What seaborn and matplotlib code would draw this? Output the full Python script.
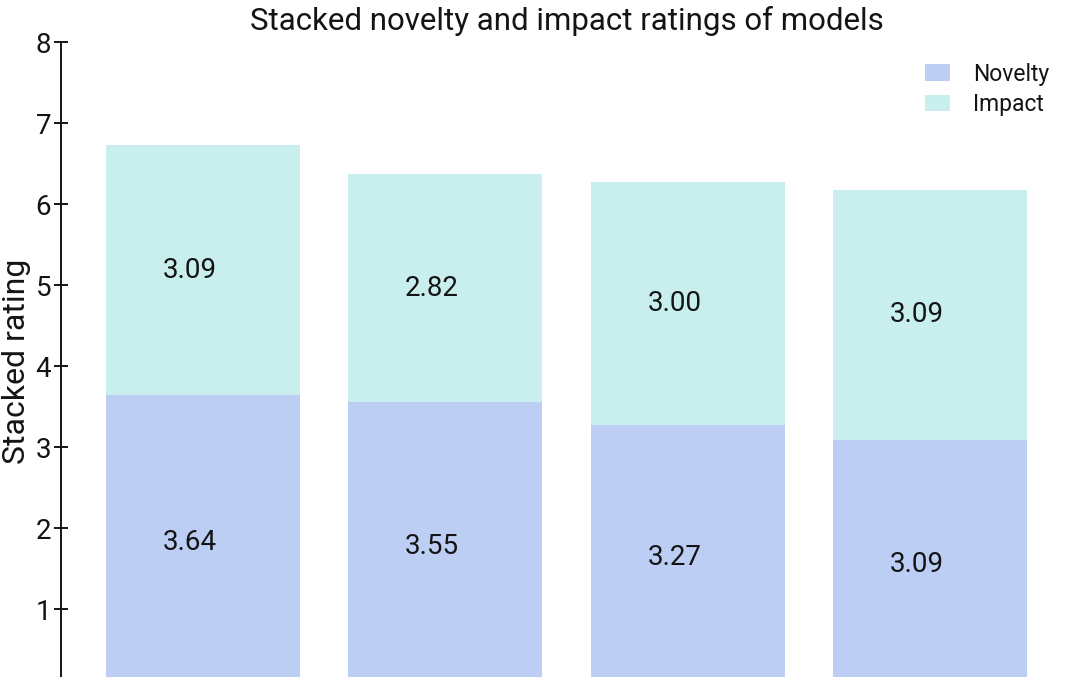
import matplotlib.pyplot as plt
import numpy as np
import pandas as pd
import seaborn as sns

# values
models = ["Model 1", "Model 2", "Model 3", "Model 4"]
novelty = [3.64, 3.55, 3.27, 3.09]
impact = [3.09, 2.82, 3.00, 3.09]

df = pd.DataFrame({"model": models, "Novelty": novelty, "Impact": impact})
df["total"] = df["Novelty"] + df["Impact"]

sns.set_style("ticks")
plt.rcParams['font.family'] = ['Roboto', 'DejaVu Sans']
txt_col = "#141414"

col_nov = "#BCCEF4"
col_imp = "#C8EFEE"

fig = plt.figure(figsize=(10.8, 6.77), dpi=100)
ax = fig.add_axes([0.0565, -0.0192, 0.936, 0.957])

# stacked bars: total first (impact colour), novelty drawn over it
sns.barplot(data=df, x="model", y="total", color=col_imp, width=0.8, saturation=1, linewidth=0, ax=ax, label="Impact")
sns.barplot(data=df, x="model", y="Novelty", color=col_nov, width=0.8, saturation=1, linewidth=0, ax=ax, label="Novelty")

# value labels sit a little left of the bar centre in the reference
for i, row in df.iterrows():
    ax.annotate(f"{row['Novelty']:.2f}", (i, row["Novelty"] / 2), xytext=(-9.5, 0), textcoords="offset points",
                ha="center", va="center", fontsize=20, color=txt_col)
    ax.annotate(f"{row['Impact']:.2f}", (i, row["Novelty"] + row["Impact"] / 2), xytext=(-9.5, 0), textcoords="offset points",
                ha="center", va="center", fontsize=20, color=txt_col)

ax.set_ylim(0, 8)
ax.set_xlim(-0.586, 3.586)
ax.set_yticks(range(1, 9))
ax.set_xticks([])
ax.set_ylabel("Stacked rating", fontsize=23, color=txt_col)
ax.yaxis.set_label_coords(-0.030, 0.507)
ax.set_xlabel("")
ax.set_title("Stacked novelty and impact ratings of models", fontsize=22.5, pad=9, color=txt_col)
ax.tick_params(axis="y", direction="inout", length=10, width=1.4, labelsize=20, labelcolor=txt_col, color=txt_col, pad=2)
sns.despine(ax=ax, bottom=True)
ax.spines["left"].set_linewidth(1.4)
ax.spines["left"].set_color(txt_col)

handles, labels = ax.get_legend_handles_labels()
order = [labels.index("Novelty"), labels.index("Impact")]
leg = ax.legend([handles[k] for k in order], [labels[k] for k in order], loc="upper right",
                frameon=False, fontsize=16.5, bbox_to_anchor=(0.998, 1.0), handlelength=1.1,
                handleheight=0.75, labelspacing=0.32, handletextpad=1.0)
for t in leg.get_texts():
    t.set_color(txt_col)

plt.savefig("out.png", dpi=100)
plt.close()
